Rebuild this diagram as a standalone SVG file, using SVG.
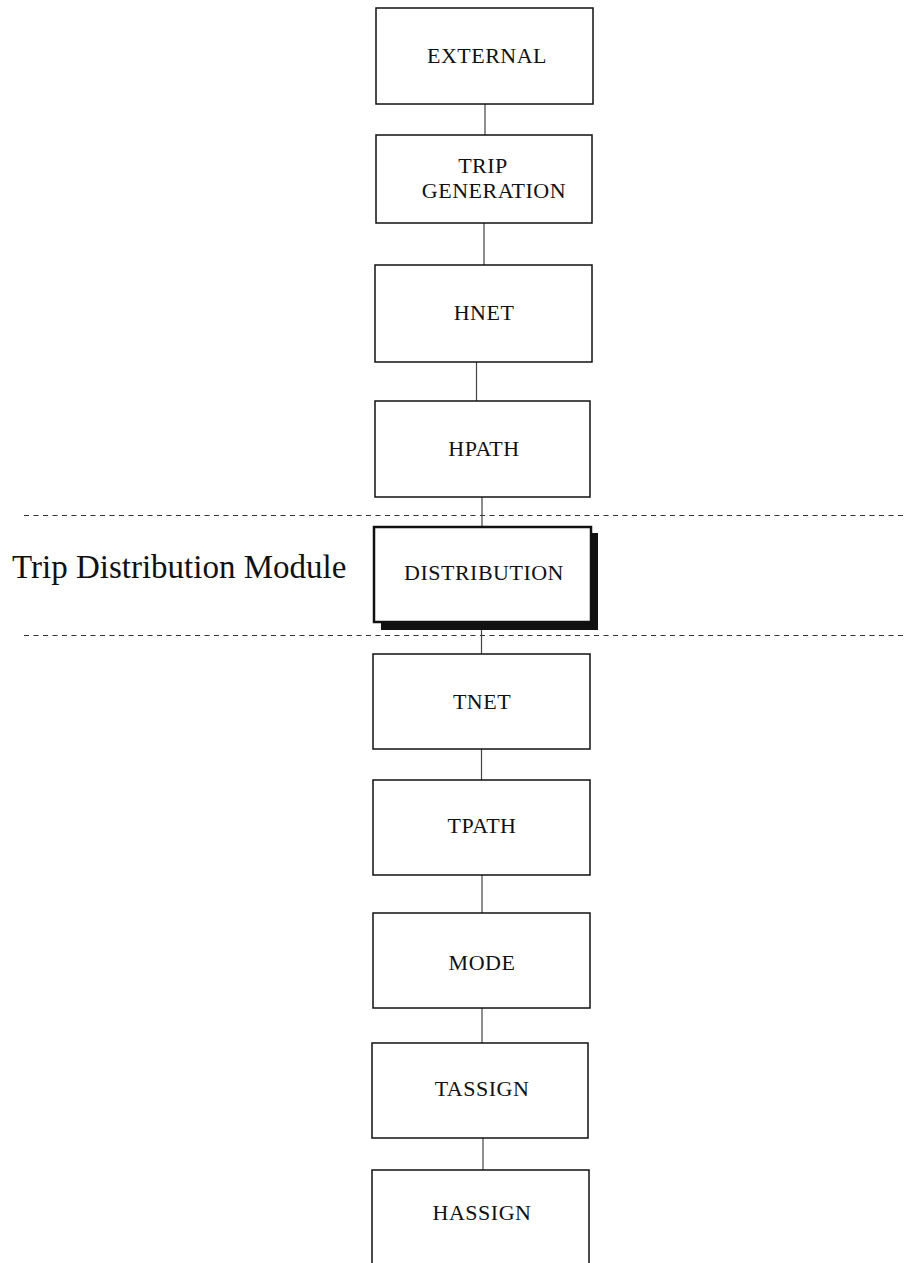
<svg xmlns="http://www.w3.org/2000/svg" width="904" height="1263" viewBox="0 0 904 1263">
  <style>
    .box { fill: #ffffff; stroke: #111111; stroke-width: 1.5; }
    .label { font-family: "Liberation Serif", "Times New Roman", serif; font-size: 22px; fill: #111111; text-anchor: middle; letter-spacing: 0.5px; }
    .link { stroke: #444444; stroke-width: 1.2; fill: none; }
    .divider { stroke: #333333; stroke-width: 1.2; stroke-dasharray: 5 4.5; fill: none; }
    .module { font-family: "Liberation Serif", "Times New Roman", serif; font-size: 33px; fill: #111111; }
  </style>
  <rect x="0" y="0" width="904" height="1263" fill="#ffffff"/>

  <!-- module boundary lines -->
  <g id="dividers">
    <line class="divider" x1="24" y1="515.5" x2="904" y2="515.5"/>
    <line class="divider" x1="24" y1="635.5" x2="904" y2="635.5"/>
  </g>
  <text class="module" x="12" y="578">Trip Distribution Module</text>

  <!-- connectors between the processing steps -->
  <g id="connectors">
    <line class="link" x1="485" y1="104" x2="485" y2="135"/>
    <line class="link" x1="484" y1="223" x2="484" y2="265"/>
    <line class="link" x1="476.5" y1="362" x2="476.5" y2="401"/>
    <line class="link" x1="482" y1="497" x2="482" y2="527"/>
    <line class="link" x1="481.5" y1="622" x2="481.5" y2="654"/>
    <line class="link" x1="481.5" y1="749" x2="481.5" y2="780"/>
    <line class="link" x1="482" y1="875" x2="482" y2="913"/>
    <line class="link" x1="482" y1="1008" x2="482" y2="1043"/>
    <line class="link" x1="483" y1="1138" x2="483" y2="1170"/>
  </g>

  <g id="external">
    <rect class="box" x="376" y="8" width="217" height="96"/>
    <text class="label" x="487" y="63">EXTERNAL</text>
  </g>

  <g id="trip-generation">
    <rect class="box" x="376" y="135" width="216" height="88"/>
    <text class="label" x="483" y="173">TRIP</text>
    <text class="label" x="494" y="198" letter-spacing="2.3">GENERATION</text>
  </g>

  <g id="hnet">
    <rect class="box" x="375" y="265" width="217" height="97"/>
    <text class="label" x="484" y="320">HNET</text>
  </g>

  <g id="hpath">
    <rect class="box" x="375" y="401" width="215" height="96"/>
    <text class="label" x="484" y="456">HPATH</text>
  </g>

  <g id="distribution">
    <!-- drop shadow -->
    <rect x="381" y="533" width="217" height="97" fill="#111111"/>
    <rect x="374" y="527" width="217" height="95" fill="#ffffff" stroke="#111111" stroke-width="2.5"/>
    <text class="label" x="484" y="580" letter-spacing="0.4">DISTRIBUTION</text>
  </g>

  <g id="tnet">
    <rect class="box" x="373" y="654" width="217" height="95"/>
    <text class="label" x="482" y="709">TNET</text>
  </g>

  <g id="tpath">
    <rect class="box" x="373" y="780" width="217" height="95"/>
    <text class="label" x="482" y="833">TPATH</text>
  </g>

  <g id="mode">
    <rect class="box" x="373" y="913" width="217" height="95"/>
    <text class="label" x="482" y="970">MODE</text>
  </g>

  <g id="tassign">
    <rect class="box" x="372" y="1043" width="216" height="95"/>
    <text class="label" x="482" y="1096">TASSIGN</text>
  </g>

  <g id="hassign">
    <rect class="box" x="372" y="1170" width="217" height="100"/>
    <text class="label" x="482" y="1220">HASSIGN</text>
  </g>
</svg>
